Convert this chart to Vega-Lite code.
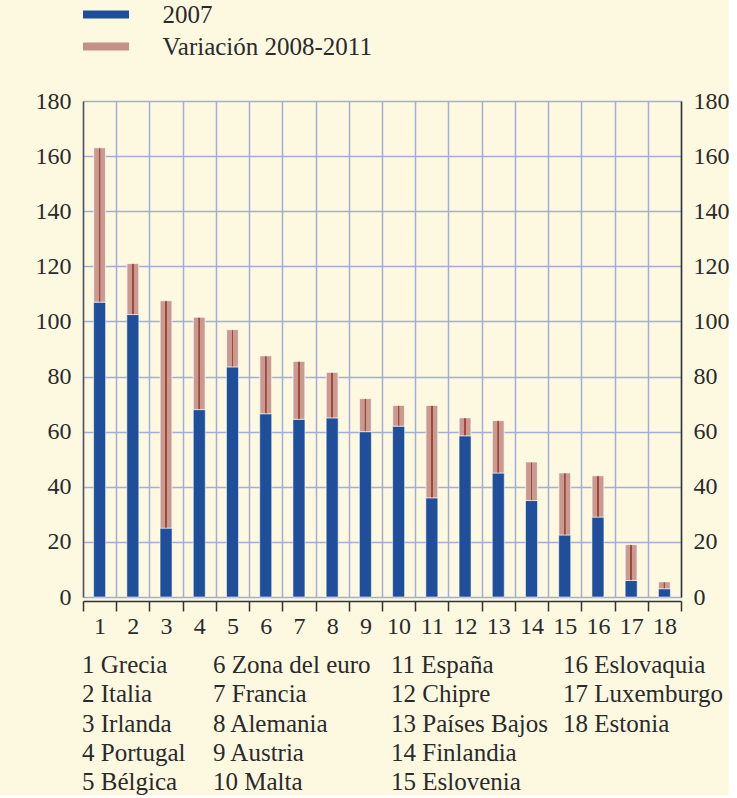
{
  "$schema": "https://vega.github.io/schema/vega-lite/v6.json",
  "width": 598,
  "height": 496,
  "padding": {"left": 35, "top": 2, "right": 0, "bottom": 0},
  "background": "#fdf9e1",
  "config": {
    "view": {"stroke": null},
    "font": "Liberation Serif, DejaVu Serif, serif",
    "axis": {"labelFont": "Liberation Serif, DejaVu Serif, serif", "labelFontSize": 24, "labelColor": "#2a2a2a"}
  },
  "data": {
    "values": [
      {"n": 1, "pais": "Grecia", "v2007": 107, "total": 163},
      {"n": 2, "pais": "Italia", "v2007": 102.5, "total": 121},
      {"n": 3, "pais": "Irlanda", "v2007": 25, "total": 107.5},
      {"n": 4, "pais": "Portugal", "v2007": 68, "total": 101.5},
      {"n": 5, "pais": "Bélgica", "v2007": 83.5, "total": 97},
      {"n": 6, "pais": "Zona del euro", "v2007": 66.5, "total": 87.5},
      {"n": 7, "pais": "Francia", "v2007": 64.5, "total": 85.5},
      {"n": 8, "pais": "Alemania", "v2007": 65, "total": 81.5},
      {"n": 9, "pais": "Austria", "v2007": 60, "total": 72},
      {"n": 10, "pais": "Malta", "v2007": 62, "total": 69.5},
      {"n": 11, "pais": "España", "v2007": 36, "total": 69.5},
      {"n": 12, "pais": "Chipre", "v2007": 58.5, "total": 65},
      {"n": 13, "pais": "Países Bajos", "v2007": 45, "total": 64},
      {"n": 14, "pais": "Finlandia", "v2007": 35, "total": 49},
      {"n": 15, "pais": "Eslovenia", "v2007": 22.5, "total": 45},
      {"n": 16, "pais": "Eslovaquia", "v2007": 29, "total": 44},
      {"n": 17, "pais": "Luxemburgo", "v2007": 6, "total": 19},
      {"n": 18, "pais": "Estonia", "v2007": 3, "total": 5.5}
    ]
  },
  "layer": [
    {
      "mark": {"type": "bar", "size": 12, "stroke": "#ffffff", "strokeWidth": 0.8, "strokeOpacity": 0.7},
      "encoding": {
        "x": {
          "field": "n", "type": "ordinal",
          "scale": {"paddingInner": 0, "paddingOuter": 0},
          "axis": {
            "title": null, "labelAngle": 0, "labelPadding": 3,
            "tickBand": "extent", "tickSize": 10, "tickColor": "#333333", "tickWidth": 1.5,
            "domainColor": "#333333", "domainWidth": 1.5, "offset": 4,
            "grid": true, "gridColor": "#a5acd8", "gridWidth": 1.5
          }
        },
        "y": {
          "field": "v2007", "type": "quantitative",
          "scale": {"domain": [0, 180], "nice": false},
          "axis": {
            "title": null, "orient": "left",
            "values": [0, 20, 40, 60, 80, 100, 120, 140, 160, 180],
            "labelPadding": 12, "ticks": false,
            "domainColor": "#555555", "domainWidth": 1.5,
            "grid": true, "gridColor": "#a5acd8", "gridWidth": 1.5
          }
        },
        "color": {
          "datum": "2007",
          "scale": {"domain": ["2007", "Variación 2008-2011"], "range": ["#1f4e9b", "#c4918a"]},
          "legend": {
            "orient": "none", "legendX": 10.5, "legendY": -99,
            "title": null,
            "symbolType": "M-2,-0.35H2V0.35H-2Z",
            "symbolSize": 529,
            "symbolStrokeWidth": 0,
            "labelFont": "Liberation Serif, DejaVu Serif, serif", "labelFontSize": 25, "labelColor": "#2a2a2a",
            "labelLimit": 400,
            "labelOffset": 44, "rowPadding": 6
          }
        }
      }
    },
    {
      "mark": {
        "type": "bar", "size": 12,
        "fill": {
          "gradient": "linear",
          "stops": [
            {"offset": 0, "color": "#e2c0b6"},
            {"offset": 0.1, "color": "#c99b90"},
            {"offset": 0.42, "color": "#c99b90"},
            {"offset": 0.44, "color": "#a3463b"},
            {"offset": 0.56, "color": "#a3463b"},
            {"offset": 0.58, "color": "#c99b90"},
            {"offset": 0.9, "color": "#c99b90"},
            {"offset": 1, "color": "#e2c0b6"}
          ]
        },
        "stroke": "#ffffff", "strokeWidth": 0.8, "strokeOpacity": 0.7
      },
      "encoding": {
        "x": {"field": "n", "type": "ordinal", "scale": {"paddingInner": 0, "paddingOuter": 0}, "axis": null},
        "y": {
          "field": "v2007", "type": "quantitative",
          "scale": {"domain": [0, 180], "nice": false},
          "axis": {
            "title": null, "orient": "right",
            "values": [0, 20, 40, 60, 80, 100, 120, 140, 160, 180],
            "labelPadding": 12, "ticks": false,
            "domainColor": "#333333", "domainWidth": 1.5, "grid": false
          }
        },
        "y2": {"field": "total"}
      }
    },
    {
      "data": {
        "values": [
          {"label": "1 Grecia", "col": 1, "row": 1},
          {"label": "2 Italia", "col": 1, "row": 2},
          {"label": "3 Irlanda", "col": 1, "row": 3},
          {"label": "4 Portugal", "col": 1, "row": 4},
          {"label": "5 Bélgica", "col": 1, "row": 5},
          {"label": "6 Zona del euro", "col": 2, "row": 1},
          {"label": "7 Francia", "col": 2, "row": 2},
          {"label": "8 Alemania", "col": 2, "row": 3},
          {"label": "9 Austria", "col": 2, "row": 4},
          {"label": "10 Malta", "col": 2, "row": 5},
          {"label": "11 España", "col": 3, "row": 1},
          {"label": "12 Chipre", "col": 3, "row": 2},
          {"label": "13 Países Bajos", "col": 3, "row": 3},
          {"label": "14 Finlandia", "col": 3, "row": 4},
          {"label": "15 Eslovenia", "col": 3, "row": 5},
          {"label": "16 Eslovaquia", "col": 4, "row": 1},
          {"label": "17 Luxemburgo", "col": 4, "row": 2},
          {"label": "18 Estonia", "col": 4, "row": 3}
        ]
      },
      "mark": {"type": "text", "align": "left", "baseline": "middle", "font": "Liberation Serif, DejaVu Serif, serif", "fontSize": 25, "fill": "#2a2a2a"},
      "encoding": {
        "x": {"field": "col", "type": "quantitative", "scale": {"domain": [1, 2, 3, 4], "range": [-1, 130, 308, 480], "zero": false, "nice": false}, "axis": null},
        "y": {"field": "row", "type": "quantitative", "scale": {"domain": [1, 5], "range": [564, 681], "zero": false, "nice": false}, "axis": null},
        "text": {"field": "label"}
      }
    }
  ],
  "resolve": {"scale": {"x": "independent", "y": "independent"}}
}
